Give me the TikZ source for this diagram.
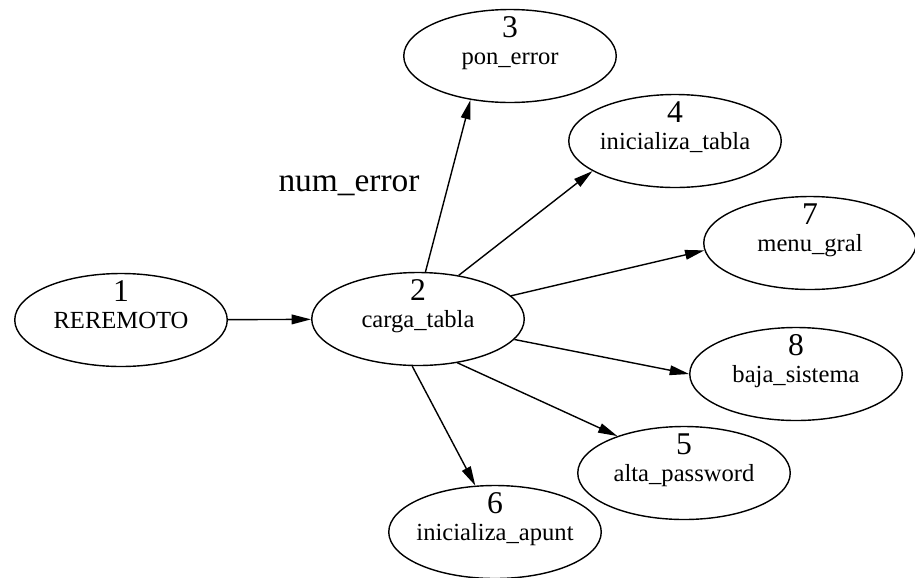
\documentclass[tikz,border=0pt]{standalone}
\usepackage{fontspec}
\setmainfont{Liberation Serif}
\usepackage{tikz}
\usetikzlibrary{calc, shapes, arrows.meta}
\newcommand{\pnum}[1]{{\fontsize{18}{18}\selectfont #1}}

\begin{document}
\begin{tikzpicture}
\tikzstyle{proc}=[ellipse,draw,line width=0.8pt,minimum width=4.25cm,minimum height=1.86cm,inner xsep=-0.5cm,inner ysep=0pt,align=center,font=\fontsize{14}{15}\selectfont,text height=0.5cm,text depth=0.18cm]
\tikzstyle{flow}=[line width=0.8pt,-{Triangle[length=11pt,width=5.5pt]}]
\useasboundingbox (0,0) rectangle (18.3,-11.54);
\node[proc] (P_1) at (2.42,-6.4) {\pnum{1}\\REREMOTO};
\node[proc] (P_2) at (8.36,-6.38) {\pnum{2}\\carga\_tabla};
\node[proc] (P_3) at (10.2,-1.12) {\pnum{3}\\pon\_error};
\node[proc] (P_4) at (13.5,-2.82) {\pnum{4}\\inicializa\_tabla};
\node[proc] (P_7) at (16.2,-4.86) {\pnum{7}\\menu\_gral};
\node[proc] (P_8) at (15.92,-7.48) {\pnum{8}\\baja\_sistema};
\node[proc] (P_5) at (13.68,-9.46) {\pnum{5}\\alta\_password};
\node[proc] (P_6) at (9.9,-10.64) {\pnum{6}\\inicializa\_apunt};
\node[font=\fontsize{19}{20}\selectfont] (lbl) at (6.98,-3.72) {num\_error};
\draw[flow] (P_1) -- (P_2);
\draw[flow] (P_2.81) -- (P_3.228);
\draw[flow] (P_2.47) -- (P_4.200);
\draw[flow] (P_2.14) -- (P_7.184);
\draw[flow] (P_2.348) -- (P_8.180);
\draw[flow] (P_2.312) -- (P_5.151);
\draw[flow] (P_2.263) -- (P_6.113);
\end{tikzpicture}
\end{document}
